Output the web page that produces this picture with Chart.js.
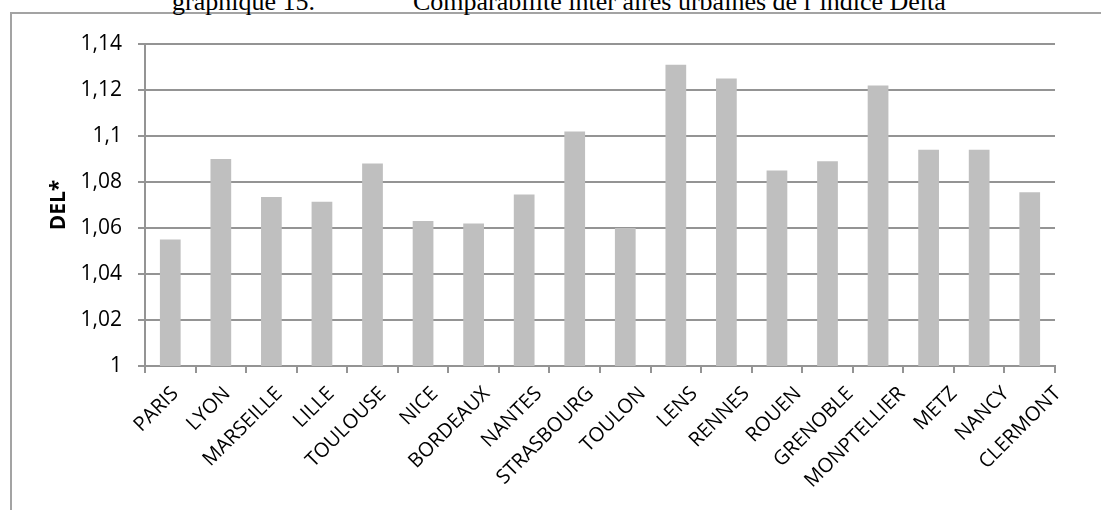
<!DOCTYPE html>
<html lang="fr">

<head>
  <meta charset="UTF-8">
  <title>Comparabilité inter aires urbaines de l'indice Delta</title>
  <script src="https://cdn.jsdelivr.net/npm/chart.js"></script>
  <style>
    body { margin: 0; background: #fff; }
    #wrap { position: relative; width: 1101px; height: 510px; overflow: hidden; }
    #frame { position: absolute; left: 10px; top: 12px; width: 1200px; height: 600px; border: 2px solid #a3a3a3; }
    .title { position: absolute; top: -11px; font: 26px/26px "Liberation Serif", "Times New Roman", serif; color: #000; white-space: nowrap; }
    canvas { position: absolute; left: 0; top: 0; }
  </style>
</head>

<body>
  <div id="wrap">
    <div id="frame"></div>
    <span class="title" style="left:172px">graphique 15.</span>
    <span class="title" style="left:413px">Comparabilité inter aires urbaines de l’indice Delta</span>
    <canvas id="chart" width="1101" height="510"></canvas>
  </div>

  <script>
    // aires urbaines (order as in the source chart)
    const categories = ['PARIS', 'LYON', 'MARSEILLE', 'LILLE', 'TOULOUSE', 'NICE', 'BORDEAUX', 'NANTES',
      'STRASBOURG', 'TOULON', 'LENS', 'RENNES', 'ROUEN', 'GRENOBLE', 'MONPTELLIER', 'METZ', 'NANCY', 'CLERMONT'];

    // DEL* values
    const delValues = [1.055, 1.090, 1.0735, 1.0714, 1.088, 1.063, 1.062, 1.0746,
      1.102, 1.060, 1.131, 1.125, 1.085, 1.089, 1.122, 1.094, 1.094, 1.0755];

    const yTickLabels = ['1', '1,02', '1,04', '1,06', '1,08', '1,1', '1,12', '1,14'];

    const gridColor = '#949494';
    const font = 'Open Sans';

    // the source's rotated category labels drift to the right along the axis;
    // nudge the label items the x scale computed, once, before it draws them
    const labelDrift = {
      id: 'labelDrift',
      beforeDraw(chart) {
        const items = chart.scales.x.getLabelItems();
        if (items._drifted) return;
        items.forEach((item, i) => { item.options.translation[0] += 5 + i * 1.35; });
        items._drifted = true;
      }
    };

    new Chart(document.getElementById('chart'), {
      type: 'bar',
      data: {
        labels: categories,
        datasets: [{
          label: 'DEL*',
          data: delValues,
          backgroundColor: '#bfbfbf',
          borderWidth: 0,
          barPercentage: 0.41,
          categoryPercentage: 1
        }]
      },
      options: {
        responsive: false,
        animation: false,
        layout: {padding: {left: 10, top: 44, right: 46, bottom: 0}},
        plugins: {
          legend: {display: false},
          tooltip: {enabled: false}
        },
        scales: {
          x: {
            afterFit: (scale) => { scale.height = 144; },
            grid: {
              offset: true,
              drawOnChartArea: false,
              drawTicks: true,
              tickLength: 7,
              color: gridColor,
              lineWidth: 2
            },
            border: {color: gridColor, width: 2},
            ticks: {
              autoSkip: false,
              maxRotation: 45,
              minRotation: 45,
              padding: 9,
              color: '#000',
              font: {family: font, size: 20}
            }
          },
          y: {
            min: 1,
            max: 1.14,
            afterFit: (scale) => { scale.width = 135; },
            grid: {
              color: gridColor,
              lineWidth: 2,
              tickLength: 7
            },
            border: {color: gridColor, width: 2},
            title: {
              display: true,
              text: 'DEL*',
              color: '#000',
              font: {family: font, size: 21, weight: 'bold'},
              padding: {top: 36, bottom: 0}
            },
            ticks: {
              stepSize: 0.02,
              padding: 16,
              color: '#000',
              font: {family: font, size: 21},
              callback: (value, index) => yTickLabels[index]
            }
          }
        }
      },
      plugins: [labelDrift]
    });
  </script>
</body>

</html>
